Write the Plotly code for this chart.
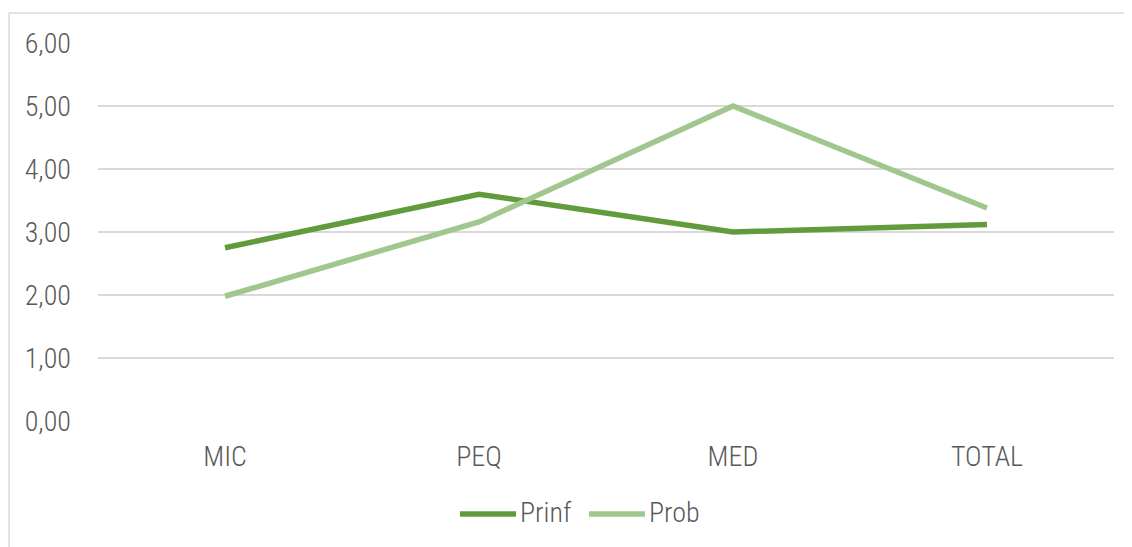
import plotly.graph_objects as go

categories = ["MIC", "PEQ", "MED", "TOTAL"]
prinf = [2.75, 3.60, 3.00, 3.12]
prob = [1.98, 3.16, 5.00, 3.38]
y_ticks = [0, 1, 2, 3, 4, 5, 6]
y_tick_labels = ["0,00", "1,00", "2,00", "3,00", "4,00", "5,00", "6,00"]
series_names = ["Prinf", "Prob"]
series_colors = ["#629B3C", "#A1C78E"]

FONT = "Roboto Condensed, Arial Narrow, Liberation Sans, sans-serif"
FS = 28
WT = 300
TXT = "#595959"

OFF = 8  # page body margin
W, H = 1132 - OFF, 547 - OFF
# plot area in page pixels: x 98..1114, y 43..421
L = 98 - OFF
T = 43 - OFF
R = W - (1114 - OFF)
B = H - (421 - OFF)
pw = W - L - R
ph = H - T - B

fig = go.Figure()
for name, vals, col in zip(series_names, [prinf, prob], series_colors):
    fig.add_trace(go.Scatter(x=categories, y=vals, name=name, mode="lines",
                             line=dict(color=col, width=5.5), showlegend=False))

def px_x(p):  # page pixel -> paper
    return (p - OFF - L) / pw

def px_y(p):
    return (H - B - (p - OFF)) / ph

border = "#D9D9D9"
fig.add_shape(type="line", xref="paper", yref="paper",
              x0=px_x(9), x1=px_x(1140), y0=px_y(13), y1=px_y(13),
              line=dict(color=border, width=1.5))
fig.add_shape(type="line", xref="paper", yref="paper",
              x0=px_x(9), x1=px_x(9), y0=px_y(13), y1=px_y(560),
              line=dict(color=border, width=1.5))

tfont = dict(family=FONT, size=FS, color=TXT, weight=WT)

# manual legend
leg_y = 514
leg_items = [(460, 516, 518), (589, 645, 647)]
for (x0, x1, tx), name, col in zip(leg_items, series_names, series_colors):
    fig.add_shape(type="line", xref="paper", yref="paper",
                  x0=px_x(x0), x1=px_x(x1), y0=px_y(leg_y), y1=px_y(leg_y),
                  line=dict(color=col, width=5.5))
    fig.add_annotation(xref="paper", yref="paper", x=px_x(tx), y=px_y(leg_y - 2),
                       xanchor="left", yanchor="middle", text=name, showarrow=False,
                       font=tfont)

fig.update_layout(
    width=W, height=H,
    margin=dict(l=L, r=R, t=T, b=B),
    paper_bgcolor="white", plot_bgcolor="white",
    font=tfont,
    showlegend=False,
    xaxis=dict(type="category", range=[-0.5, 3.5], showgrid=False, zeroline=False,
               showline=False, ticks="", ticklabelstandoff=16, tickfont=tfont),
    yaxis=dict(range=[0, 6], tickvals=y_ticks, ticktext=y_tick_labels,
               showgrid=True, gridcolor="#D9D9D9", gridwidth=1.5, zeroline=False,
               showline=False, ticks="", ticklabelstandoff=26, tickfont=tfont),
)

fig.write_html("out.html")
